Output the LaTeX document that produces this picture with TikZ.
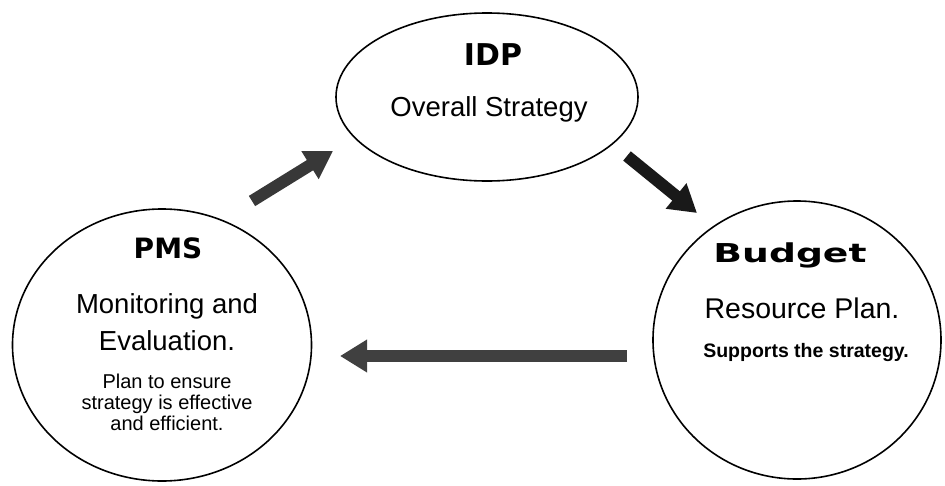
\documentclass[tikz,border=0pt]{standalone}
\usepackage{fontspec}
\setmainfont{Liberation Sans}
\newfontfamily\headfont{DejaVu Sans}
\newfontfamily\widefont[FakeStretch=1.45]{DejaVu Sans}
\usetikzlibrary{shapes.geometric,arrows.meta}
\tikzset{
  shapeline/.style={draw=black, line width=1.6pt, inner sep=0pt},
  oval/.style={shapeline, ellipse},
  flow/.style={line width=12pt, -{Triangle[length=27pt,width=31pt]}},
  txt/.style={anchor=base, inner sep=0pt, align=center},
  head/.style={txt, font=\headfont\bfseries\fontsize{28}{32}\selectfont},
  big/.style={txt, font=\fontsize{27.5}{32}\selectfont},
  small/.style={txt, font=\fontsize{20}{24}\selectfont},
}
\begin{document}
\begin{tikzpicture}[x=1pt,y=-1pt]
\useasboundingbox (0,0) rectangle (945,485);
% shapes
\node[oval, minimum width=302pt, minimum height=168pt] (idp) at (487,97) {};
\node[oval, minimum width=299pt, minimum height=272pt] (pms) at (162,345) {};
\node[oval, minimum width=288pt, minimum height=278pt] (bud) at (797,340) {};
% texts
\node[head, font=\headfont\bfseries\fontsize{30}{34}\selectfont] (t1) at (493,65) {IDP};
\node[big] (t2) at (489,116) {Overall Strategy};
\node[head] (t3) at (168,258) {PMS};
\node[big] (t4) at (167,313) {Monitoring and};
\node[big] (t5) at (167,350) {Evaluation.};
\node[small] (t6) at (167,388) {Plan to ensure};
\node[small] (t7) at (167,409) {strategy is effective};
\node[small] (t8) at (167,430) {and efficient.};
\node[txt, font=\widefont\bfseries\fontsize{26}{30}\selectfont] (t9) at (790,262) {Budget};
\node[big, font=\fontsize{28.5}{32}\selectfont] (t10) at (802,318) {Resource Plan.};
\node[txt, font=\bfseries\fontsize{19.5}{24}\selectfont] (t11) at (806,357) {Supports the strategy.};
% arrow end points
\coordinate (a1) at (252,201);
\coordinate (a2) at (333,151);
\coordinate (b1) at (627,156);
\coordinate (b2) at (697,213);
\coordinate (c1) at (627,356);
\coordinate (c2) at (340,356);
\draw[flow, color=black!78] (a1) -- (a2);
\draw[flow, color=black!90] (b1) -- (b2);
\draw[flow, color=black!75] (c1) -- (c2);
\end{tikzpicture}
\end{document}
